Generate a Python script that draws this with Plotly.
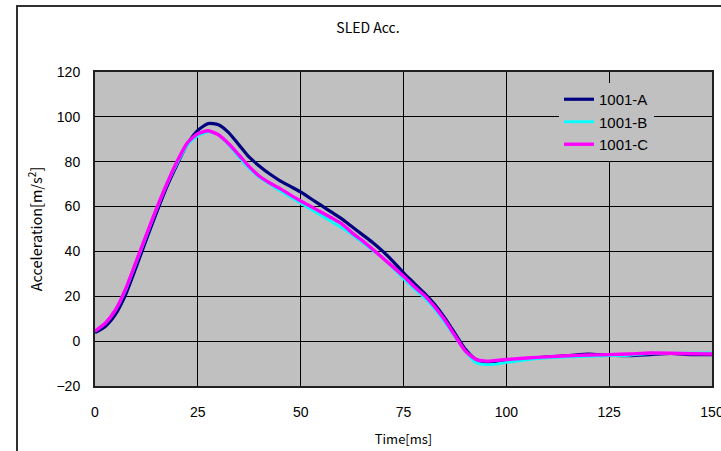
import plotly.graph_objects as go

time_ms = [0, 2.5, 5, 7.5, 10, 12.5, 15, 17.5, 20, 22.5, 25, 27.5, 30, 32.5, 35, 37.5,
           40, 42.5, 45, 47.5, 50, 52.5, 55, 57.5, 60, 62.5, 65, 67.5, 70, 72.5, 75,
           77.5, 80, 82.5, 85, 87.5, 90, 92.5, 95, 97.5, 100, 105, 110, 115, 120, 125,
           130, 135, 140, 145, 150]

acc_a = [3.8, 6.5, 12, 21, 33, 45.5, 57.5, 69, 79, 88, 94, 97, 96.5, 93, 87.5, 82,
         78, 74.5, 71.5, 69, 66.5, 63.5, 60.5, 57.5, 54.5, 51, 47.5, 44, 40, 35.5, 30.5,
         26, 21.5, 16.5, 10.5, 3.5, -3.5, -8, -9.3, -9, -8.5, -7.8, -7, -6.5, -5.8, -6.3,
         -6.5, -6, -5.5, -6, -6]

acc_b = [4.5, 8, 14, 23, 35, 47, 59, 70, 79.5, 87.5, 91.5, 93.3, 92, 87.5, 82, 77,
         73, 70, 67, 64.3, 61.5, 58.8, 56, 53.3, 50.5, 47.5, 44, 40.5, 37, 32.5, 27.8,
         23.5, 19.5, 14.5, 8.5, 2, -4.5, -9.5, -10.5, -10.2, -9.5, -8.3, -7.5, -7, -6.8, -6.5,
         -6.3, -5.5, -5.5, -5.3, -5.2]

acc_c = [4.5, 8, 14, 23.5, 35.5, 47.5, 59.3, 70.3, 80.3, 88.5, 92.5, 93.8, 92, 88, 83, 77.8,
         73.5, 70.5, 68, 65.2, 62.5, 60, 57.5, 55, 52.3, 48.3, 44.8, 41, 37, 33, 28.9,
         24.5, 20.5, 15.5, 9.5, 2.5, -4.3, -8, -8.9, -8.6, -8.2, -7.5, -7, -6.5, -6.2, -6,
         -5.7, -5.3, -5.4, -5.6, -5.7]

series = [("1001-A", acc_a, "#000080", 3.2),
          ("1001-B", acc_b, "#00FFFF", 2.8),
          ("1001-C", acc_c, "#FF00FF", 3.4)]

x_ticks = [0, 25, 50, 75, 100, 125, 150]
y_ticks = [-20, 0, 20, 40, 60, 80, 100, 120]

fig = go.Figure()
for name, vals, color, w in series:
    fig.add_trace(go.Scatter(x=time_ms, y=vals, name=name, mode="lines",
                             line=dict(color=color, width=w, shape="spline", smoothing=0.6)))

font_main = "Liberation Sans, Arial, sans-serif"
font_jp = "Noto Sans CJK JP, sans-serif"

fig.update_layout(
    width=721, height=451,
    margin=dict(l=95, r=9, t=72, b=65),
    paper_bgcolor="white",
    plot_bgcolor="#C0C0C0",
    font=dict(family=font_main, size=14, color="black"),
    title=dict(text="SLED Acc.", x=368 / 721, xref="container", xanchor="center",
               y=1 - 28 / 451, yref="container", yanchor="middle",
               font=dict(size=14, family=font_jp)),
    showlegend=True,
    legend=dict(x=0.752, y=0.965, xanchor="left", yanchor="top",
                bgcolor="#C0C0C0", borderwidth=0,
                font=dict(size=15, family=font_main),
                tracegroupgap=0),
    xaxis=dict(range=[0, 150], tickvals=x_ticks, ticktext=[str(v) for v in x_ticks],
               showgrid=True, gridcolor="black", gridwidth=1,
               showline=True, linecolor="#202020", linewidth=2, mirror=True,
               zeroline=False, ticks="", ticklabelstandoff=12, automargin=False,
               ticklabeloverflow="allow",
               title=dict(text="Time[ms]", standoff=16,
                          font=dict(size=13, family=font_jp))),
    yaxis=dict(range=[-20, 120], tickvals=y_ticks,
               showgrid=True, gridcolor="black", gridwidth=1,
               showline=True, linecolor="#202020", linewidth=2, mirror=True,
               zeroline=False, ticks="", ticklabelstandoff=10, automargin=False,
               title=dict(text="Acceleration[m/s<sup>2</sup>]", standoff=10,
                          font=dict(size=14.5, family=font_jp))),
)

# outer chart frame
fig.add_shape(type="rect", xref="paper", yref="paper",
              x0=(17 - 95) / 617, x1=(730 - 95) / 617,
              y0=-(460 - 386) / 314, y1=(386 - 6) / 314,
              line=dict(color="#303030", width=2), fillcolor="rgba(0,0,0,0)", layer="below")

fig.write_html("out.html", config={"displayModeBar": False},
               post_script="document.body.style.margin='0';document.body.style.padding='0';")
